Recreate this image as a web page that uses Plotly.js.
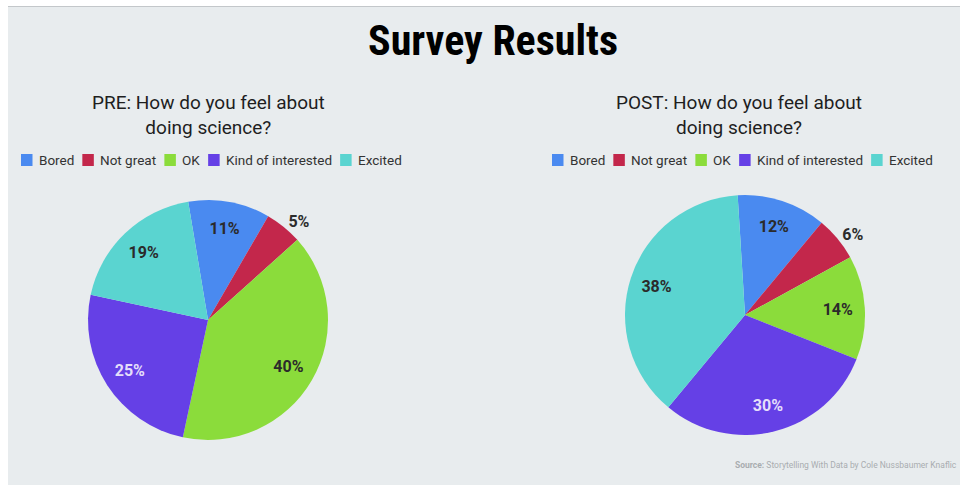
<!DOCTYPE html>
<html>
<head>
<meta charset="utf-8">
<script src="https://cdn.plot.ly/plotly-3.0.1.min.js"></script>
<style>
  html, body { margin: 0; padding: 0; background: #ffffff; }
  #bg { position: absolute; left: 8px; top: 6px; width: 952px; height: 479px;
        background: #e8ecee; border-top: 1px solid #c3c7ca; }
  #chart { position: absolute; left: 0; top: 0; width: 960px; height: 485px; }
</style>
</head>
<body>
<div id="bg"></div>
<div id="chart"></div>
<script>
// ---- data ----
const categories = ["Bored", "Not great", "OK", "Kind of interested", "Excited"];
const preValues  = [11, 5, 40, 25, 19];
const postValues = [12, 6, 14, 30, 38];
const colors = ["#4a8af0", "#c3274b", "#8bdc3b", "#6540e6", "#5ad4d0"];
const chartTitle = "Survey Results";
const preTitle = "PRE: How do you feel about<br>doing science?";
const postTitle = "POST: How do you feel about<br>doing science?";
const sourceText = "<b>Source:</b> Storytelling With Data by Cole Nussbaumer Knaflic";

const W = 960, H = 485;
const px = x => x / W;
const py = y => 1 - y / H;

function textPositions(vals) {
  return vals.map(v => v < 8 ? "outside" : "inside");
}
function textColors() {
  return categories.map(c => c === "Kind of interested" ? "#e4defa" : "#2b2b2b");
}

const labelFont = { family: "Roboto", size: 16, color: "#2b2b2b", weight: "bold" };

function makePies(values, rotation, domain) {
  // filled pie (no text)
  const base = {
    type: "pie", labels: categories, values: values, sort: false,
    direction: "clockwise", rotation: rotation, domain: domain,
    marker: { colors: colors, line: { width: 0 } },
    textinfo: "none", hoverinfo: "label+percent", showlegend: false
  };
  // transparent ring overlay that carries the percentage labels
  const labels = {
    type: "pie", labels: categories, values: values, sort: false,
    direction: "clockwise", rotation: rotation, domain: domain, hole: 0.55,
    marker: { colors: categories.map(() => "rgba(0,0,0,0)"), line: { width: 0 } },
    textinfo: "percent", textposition: textPositions(values),
    insidetextorientation: "horizontal",
    insidetextfont: Object.assign({}, labelFont, { color: textColors() }),
    outsidetextfont: labelFont,
    hoverinfo: "skip", showlegend: false
  };
  return [base, labels];
}

const traces = [].concat(
  makePies(preValues, -9.5, { x: [px(88), px(328)], y: [py(440), py(200)] }),
  makePies(postValues, -3.5, { x: [px(625), px(865)], y: [py(435), py(195)] })
);

// ---- legends built from categories/colors ----
const legendSize = 13.5;
const ctx = document.createElement("canvas").getContext("2d");
ctx.font = legendSize + "px Roboto";
const annotations = [];
const shapes = [];
function buildLegend(startX, yMid) {
  let x = startX;
  categories.forEach((c, i) => {
    shapes.push({ type: "rect", xref: "paper", yref: "paper",
      x0: px(x), x1: px(x + 11.5), y0: py(yMid + 6), y1: py(yMid - 6),
      fillcolor: colors[i], line: { width: 0 } });
    annotations.push({ xref: "paper", yref: "paper", x: px(x + 16), y: py(yMid),
      xanchor: "left", yanchor: "middle", showarrow: false, text: c,
      font: { family: "Roboto", size: legendSize, color: "#333333" } });
    x += 16 + ctx.measureText(c).width + 10;
  });
}
buildLegend(21, 160);
buildLegend(552, 160);

annotations.push({ xref: "paper", yref: "paper", x: px(493), y: py(40),
  xanchor: "center", yanchor: "middle", showarrow: false, text: "<b>" + chartTitle + "</b>",
  font: { family: "Liberation Sans Narrow, Roboto Condensed, Roboto", size: 42, color: "#000000" } });
annotations.push({ xref: "paper", yref: "paper", x: px(208), y: py(115),
  xanchor: "center", yanchor: "middle", showarrow: false, text: preTitle,
  font: { family: "Roboto", size: 19, color: "#1e1e1e" } });
annotations.push({ xref: "paper", yref: "paper", x: px(739), y: py(115),
  xanchor: "center", yanchor: "middle", showarrow: false, text: postTitle,
  font: { family: "Roboto", size: 19, color: "#1e1e1e" } });
annotations.push({ xref: "paper", yref: "paper", x: px(733), y: py(465),
  xanchor: "left", yanchor: "middle", showarrow: false, text: sourceText,
  font: { family: "Roboto", size: 8.5, color: "#a9adb0" } });

const layout = {
  width: W, height: H,
  margin: { l: 0, r: 0, t: 0, b: 0 },
  paper_bgcolor: "rgba(0,0,0,0)",
  plot_bgcolor: "rgba(0,0,0,0)",
  showlegend: false,
  annotations: annotations,
  shapes: shapes
};

Plotly.newPlot("chart", traces, layout, { displayModeBar: false, staticPlot: true });
</script>
</body>
</html>
